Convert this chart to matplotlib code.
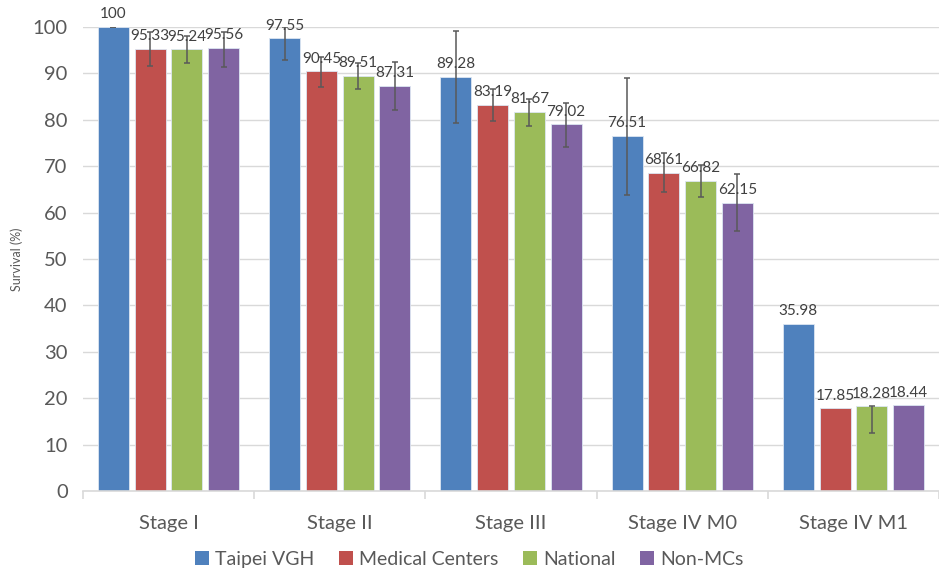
import numpy as np
import matplotlib
matplotlib.use("Agg")
from matplotlib import pyplot as plt
from matplotlib.patches import Patch

plt.rcParams['font.family'] = ['Lato', 'DejaVu Sans']

stages = ["Stage I", "Stage II", "Stage III", "Stage IV M0", "Stage IV M1"]
groups = ["Taipei VGH", "Medical Centers", "National", "Non-MCs"]
colors = ["#4F81BD", "#C0504D", "#9BBB59", "#8064A2"]

taipei_vgh = [100, 97.55, 89.28, 76.51, 35.98]
medical_centers = [95.33, 90.45, 83.19, 68.61, 17.85]
national = [95.24, 89.51, 81.67, 66.82, 18.28]
non_mcs = [95.56, 87.31, 79.02, 62.15, 18.44]

# error bar ends (low, high), None = no error bar
taipei_vgh_err = [(100, 100), (92.8, 100), (79.3, 99.1), (63.8, 89.1), None]
medical_centers_err = [(91.6, 99.0), (87.0, 93.5), (79.7, 86.6), (64.4, 72.9), None]
national_err = [(92.2, 98.1), (86.6, 92.2), (78.7, 84.4), (63.3, 70.2), (12.6, 18.28)]
non_mcs_err = [(91.3, 99.0), (82.1, 92.4), (74.1, 83.7), (56.0, 68.3), None]

series = [taipei_vgh, medical_centers, national, non_mcs]
errors = [taipei_vgh_err, medical_centers_err, national_err, non_mcs_err]

fig = plt.figure(figsize=(9.39, 5.68), dpi=100)
ax = fig.add_axes([0.0884, 0.1356, 0.9116, 0.8169])

x = np.arange(len(stages))
step = 0.2146
width = 0.181
for i, (vals, errs) in enumerate(zip(series, errors)):
    pos = x + (i - 1.5) * step
    ax.bar(pos, vals, width, color=colors[i], edgecolor="#DCE6F2", linewidth=0.6, zorder=2)
    for p, v, e in zip(pos, vals, errs):
        if e is not None:
            ax.errorbar(p, v, yerr=[[v - e[0]], [e[1] - v]], color="#595959", elinewidth=1.1,
                        capsize=2.5, capthick=1.1, zorder=3)
        label = "100" if v == 100 else "%.2f" % v
        ax.annotate(label, (p, v), xytext=(0, 4), textcoords="offset points",
                    ha="center", va="bottom", fontsize=11, color="#404040",
                    annotation_clip=False, zorder=4)

ax.set_xlim(-0.5, 4.5)
ax.set_ylim(0, 100)
ax.set_yticks(range(0, 101, 10))
ax.grid(axis="y", color="#D9D9D9", linewidth=1, zorder=0)
ax.set_axisbelow(True)
for s in ["top", "right", "left"]:
    ax.spines[s].set_visible(False)
ax.spines["bottom"].set_color("#D9D9D9")
ax.spines["bottom"].set_linewidth(1.2)

ax.set_xticks(x)
ax.set_xticklabels(stages)
ax.set_xticks(np.arange(-0.5, 5, 1), minor=True)
ax.tick_params(axis="x", which="major", length=0, pad=17, labelsize=14.5, labelcolor="#595959")
ax.tick_params(axis="x", which="minor", length=6, color="#D9D9D9", width=1.2)
ax.tick_params(axis="y", length=0, pad=11, labelsize=14.5, labelcolor="#595959")
ax.set_ylabel("Survival (%)", fontsize=9, color="#595959", labelpad=7)

handles = [Patch(facecolor=c, edgecolor="none") for c in colors]
fig.legend(handles, groups, loc="lower center", bbox_to_anchor=(0.5, -0.03), ncol=4,
           frameon=False, handlelength=0.7, handleheight=0.7, handletextpad=0.35,
           columnspacing=1.25, fontsize=14, labelcolor="#595959")

fig.savefig("out.png", dpi=100)
